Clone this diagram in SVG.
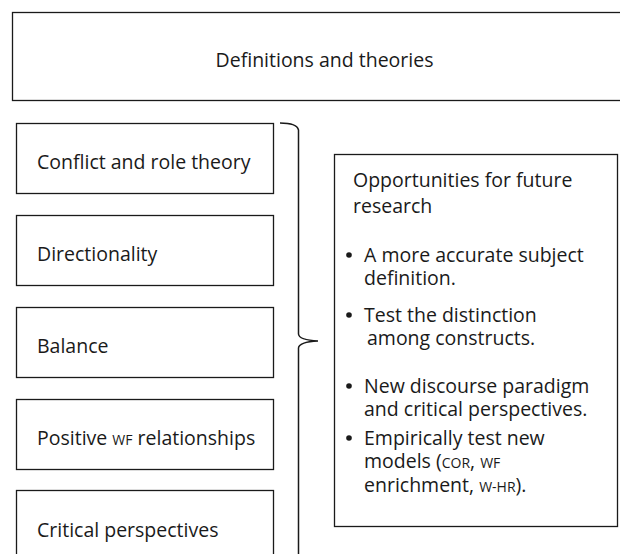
<svg xmlns="http://www.w3.org/2000/svg" width="620" height="554" viewBox="0 0 620 554">
  <style>
    .box { fill: #ffffff; stroke: #1a1a1a; stroke-width: 1.3; }
    .lbl { font-family: "Open Sans", "Noto Sans", sans-serif; font-size: 19.5px; fill: #1a1a1a; }
    .sc { font-size: 14px; }
    .brace { fill: none; stroke: #1a1a1a; stroke-width: 1.5; }
  </style>
  <rect width="620" height="554" fill="#ffffff"/>

  <g id="definitions">
    <rect class="box" x="12.5" y="12.5" width="640" height="88"/>
    <text class="lbl" x="324.5" y="67" text-anchor="middle">Definitions and theories</text>
  </g>

  <g id="conflict-role-theory">
    <rect class="box" x="16.5" y="123.5" width="257" height="70"/>
    <text class="lbl" x="37" y="169">Conflict and role theory</text>
  </g>
  <g id="directionality">
    <rect class="box" x="16.5" y="215.5" width="257" height="70"/>
    <text class="lbl" x="37" y="261">Directionality</text>
  </g>
  <g id="balance">
    <rect class="box" x="16.5" y="307.5" width="257" height="70"/>
    <text class="lbl" x="37" y="353">Balance</text>
  </g>
  <g id="positive-wf">
    <rect class="box" x="16.5" y="399.5" width="257" height="70"/>
    <text class="lbl" x="37" y="445">Positive <tspan class="sc">WF</tspan> relationships</text>
  </g>
  <g id="critical-perspectives">
    <rect class="box" x="16.5" y="490.5" width="257" height="80"/>
    <text class="lbl" x="37" y="537">Critical perspectives</text>
  </g>

  <g id="connectors">
    <path class="brace" d="M280,123 Q297,123 298.5,130 L298.5,334 Q299,340 318,341 Q299,342 298.5,348 L298.5,560"/>
  </g>

  <g id="future-research">
    <rect class="box" x="334.5" y="154.5" width="283" height="372"/>
    <g class="lbl">
      <text x="353" y="187">Opportunities for future</text>
      <text x="353" y="213">research</text>
      <circle cx="349" cy="255" r="2.8"/>
      <text x="364" y="262">A more accurate subject</text>
      <text x="364" y="285">definition.</text>
      <circle cx="349" cy="315" r="2.8"/>
      <text x="364" y="322">Test the distinction</text>
      <text x="367" y="345">among constructs.</text>
      <circle cx="349" cy="386" r="2.8"/>
      <text x="364" y="393">New discourse paradigm</text>
      <text x="364" y="416">and critical perspectives.</text>
      <circle cx="349" cy="438" r="2.8"/>
      <text x="364" y="445">Empirically test new</text>
      <text x="364" y="468">models (<tspan class="sc">COR</tspan>, <tspan class="sc">WF</tspan></text>
      <text x="364" y="492">enrichment, <tspan class="sc">W-HR</tspan>).</text>
    </g>
  </g>
</svg>
